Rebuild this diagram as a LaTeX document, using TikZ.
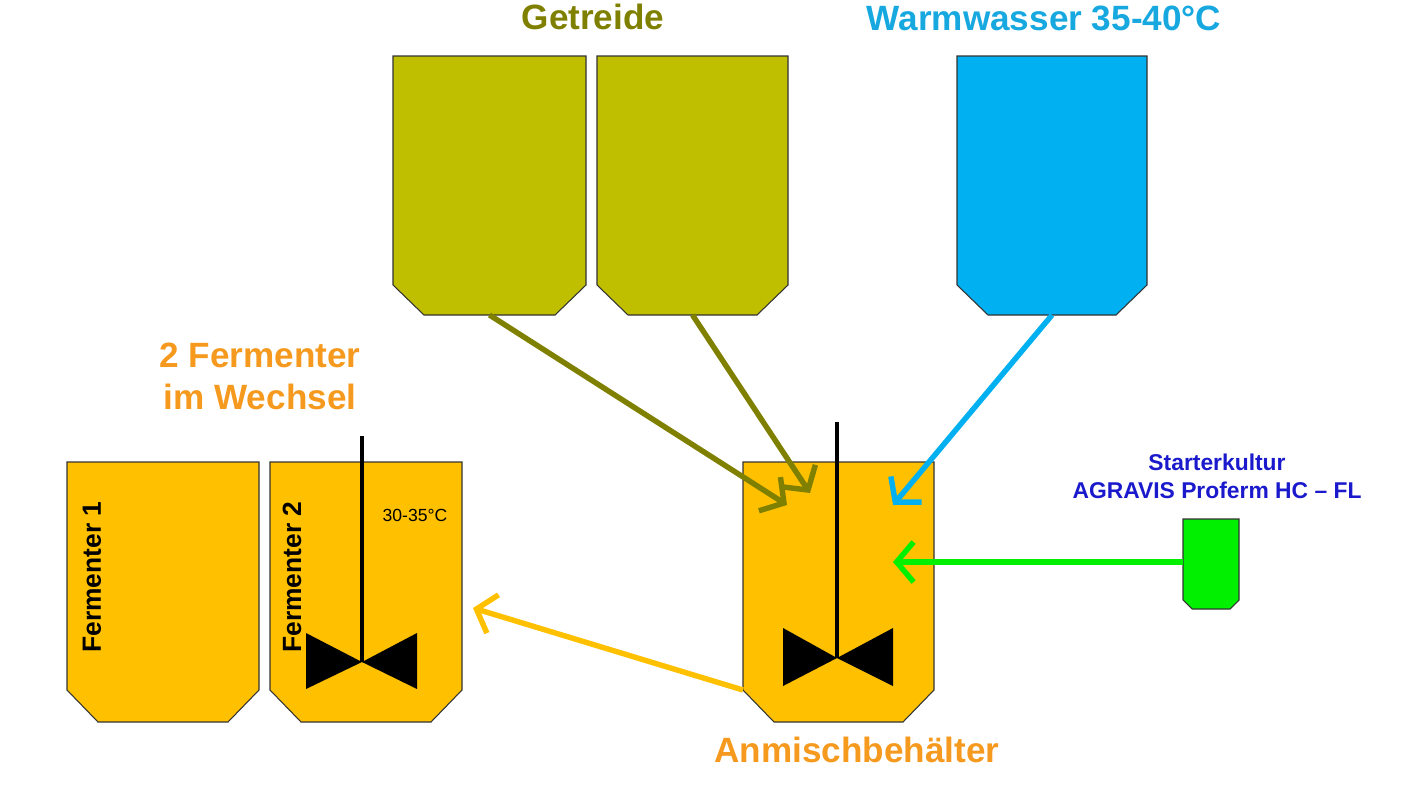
\documentclass[tikz,border=0pt]{standalone}
\usepackage{fontspec}
\setmainfont{Liberation Sans}
\usepackage{tikz}
\usetikzlibrary{arrows.meta,positioning}
\usepackage{xcolor}

\definecolor{getreidegelb}{HTML}{BFBF00}
\definecolor{getreideoliv}{HTML}{7F7F00}
\definecolor{wasserblau}{HTML}{00B0F0}
\definecolor{wassertext}{HTML}{17A8E0}
\definecolor{tankgold}{HTML}{FFC000}
\definecolor{textorange}{HTML}{F59A1E}
\definecolor{starterblau}{HTML}{1A1ACC}
\definecolor{startergruen}{HTML}{00F000}

\tikzset{
  tankrand/.style={draw=black!80, line width=0.6pt},
  strom/.style={->, line width=3.1pt},
  welle/.style={line width=2.8pt, black},
  titel/.style={font=\bfseries\fontsize{20}{24}\selectfont, align=center},
}

% Behaelter: Name, Farbe, links, rechts, oben, Knick, unten, Einzug
\newcommand{\behaelter}[8]{%
  \draw[tankrand, fill=#2] (#3,#5) -- (#4,#5) -- (#4,#6) -- (#4-#8,#7)
    -- (#3+#8,#7) -- (#3,#6) -- cycle;
  \coordinate (#1-unten) at ({(#3+#4)/2},#7);
  \coordinate (#1-lk) at (#3,#6);
}

% Ruehrwerk: Wellenspitze x, oben, Nabe y, Fluegel links, rechts, Fluegel oben, unten
\newcommand{\ruehrer}[7]{%
  \draw[welle] (#1,#2) -- (#1,#3);
  \fill (#1,#3) -- (#4,#6) -- (#4,#7) -- cycle;
  \fill (#1,#3) -- (#5,#6) -- (#5,#7) -- cycle;
}

\begin{document}
\begin{tikzpicture}[>={Straight Barb[length=3.4mm,width=8mm]}, x=0.02cm, y=-0.02cm]
    \useasboundingbox (0,0) rectangle (1408,792);

    % Silos oben
    \behaelter{silo1}{getreidegelb}{393}{586}{56}{285}{315}{31}
    \behaelter{silo2}{getreidegelb}{597}{788}{56}{285}{315}{31}
    \behaelter{wasser}{wasserblau}{957}{1147}{56}{285}{315}{31}
    \node[titel, text=getreideoliv] (getreide) at (593,17) {Getreide};
    \node[titel, text=wassertext] (warmwasser) at (1044,18) {Warmwasser 35-40°C};

    % Fermenter
    \behaelter{ferm1}{tankgold}{67}{259}{462}{690}{722}{31}
    \behaelter{ferm2}{tankgold}{270}{462}{462}{690}{722}{31}
    \ruehrer{362}{436}{662}{306}{417}{633}{689}
    \node[titel, text=textorange] (fermtitel) at (260,376) {2 Fermenter\\im Wechsel};
    \node[rotate=90, font=\bfseries\fontsize{15}{18}\selectfont] (ferm1text) at (92,577) {Fermenter 1};
    \node[rotate=90, font=\bfseries\fontsize{15}{18}\selectfont] (ferm2text) at (292,577) {Fermenter 2};
    \node[font=\fontsize{10}{12}\selectfont] (fermtemp) at (415,515) {30-35°C};

    % Anmischbehaelter
    \behaelter{anmisch}{tankgold}{743}{934}{462}{690}{722}{31}
    \ruehrer{837}{422}{658}{783}{893}{628}{686}
    \node[titel, text=textorange] (anmischtext) at (857,750) {Anmischbehälter};

    % Starterkultur
    \behaelter{starter}{startergruen}{1183}{1239}{519}{600}{609}{9}
    \coordinate (starter-links) at (1183,562);
    \node[font=\bfseries\fontsize{13}{16}\selectfont, text=starterblau, align=center] (startertext) at (1217,476) {Starterkultur\\AGRAVIS Proferm HC -- FL};

    % Zielpunkte
    \coordinate (ziel1) at (787,505);
    \coordinate (ziel2) at (810,493);
    \coordinate (ziel3) at (893,505);
    \coordinate (ziel4) at (893,562);
    \coordinate (ziel5) at (473,608);

    % Stroeme
    \draw[strom, getreideoliv] (silo1-unten) -- (ziel1);
    \draw[strom, getreideoliv] (silo2-unten) -- (ziel2);
    \draw[strom, wasserblau] (wasser-unten) -- (ziel3);
    \draw[strom, startergruen] (starter-links) -- (ziel4);
    \draw[strom, tankgold] (anmisch-lk) -- (ziel5);
\end{tikzpicture}
\end{document}
